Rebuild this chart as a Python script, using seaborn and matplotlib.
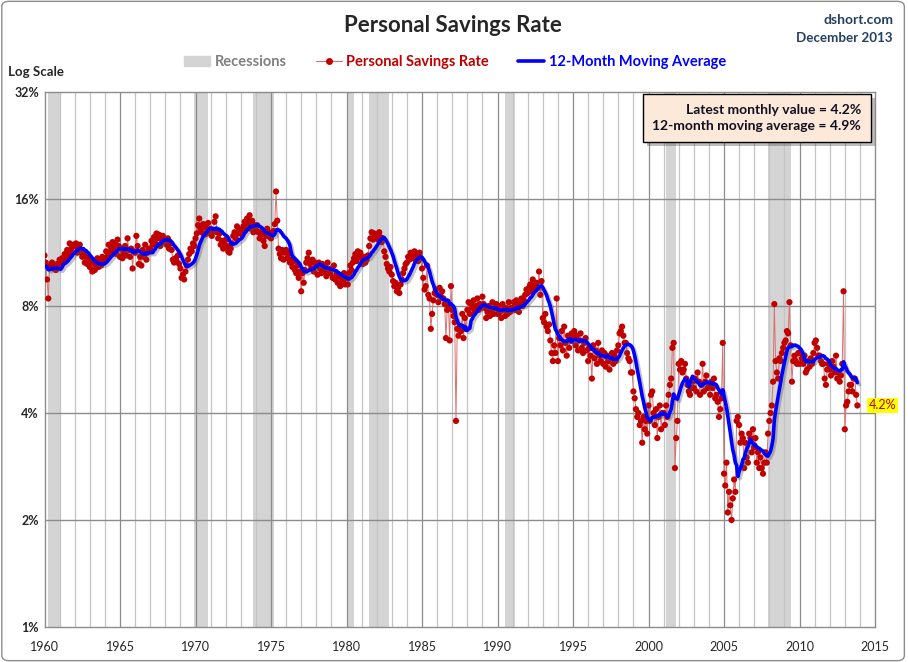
import numpy as np
import pandas as pd
import matplotlib
matplotlib.use("Agg")
import matplotlib.pyplot as plt
import matplotlib.patheffects as pe
from matplotlib.patches import Patch, FancyBboxPatch
from matplotlib.lines import Line2D
import seaborn as sns

# Monthly personal saving rate (%), Jan 1959 onwards
savings_1959_69 = [
    10.8, 10.5, 10.3, 10.6, 10.2, 10.0, 10.4, 9.8, 10.1, 10.3, 10.6, 10.4,
    11.1, 10.6, 9.5, 8.4, 10.3, 10.4, 10.6, 10.2, 10.4, 10.1, 10.5, 10.3,
    10.8, 10.4, 10.9, 10.6, 11.2, 10.9, 11.5, 11.2, 12.0, 11.4, 11.7, 11.9,
    11.8, 12.0, 11.3, 11.6, 11.9, 11.3, 11.0, 11.3, 10.6, 11.0, 10.5, 10.8,
    10.3, 10.7, 10.0, 10.6, 10.1, 10.4, 10.9, 10.3, 10.7, 10.4, 11.0, 10.6,
    10.8, 11.4, 11.0, 11.9, 11.3, 11.7, 12.1, 11.5, 11.9, 11.2, 12.3, 11.8,
    11.0, 11.6, 10.9, 11.3, 11.8, 11.1, 12.4, 11.5, 11.0, 11.6, 10.2, 11.4,
    11.3, 12.6, 11.8, 10.5, 11.0, 10.4, 11.5, 11.0, 11.9, 10.8, 11.3, 11.6,
    11.6, 12.2, 11.9, 12.5, 12.0, 12.8, 12.4, 12.7, 11.8, 12.3, 12.6, 12.1,
    12.2, 11.9, 12.4, 11.6, 12.0, 11.5, 10.8, 10.6, 10.9, 10.7, 11.1, 10.5,
    10.2, 9.6, 9.8, 9.5, 10.0, 10.4, 10.8, 11.2, 11.6, 11.4, 12.0, 11.8,
]
savings_1970s = [
    12.4, 12.8, 13.5, 14.1, 13.2, 12.9, 13.6, 12.7, 13.3, 12.8, 13.7, 13.0,
    13.2, 12.6, 13.0, 13.8, 14.3, 12.9, 12.4, 12.8, 11.9, 12.2, 11.6, 12.0,
    12.3, 11.8, 11.4, 11.3, 11.6, 12.0, 12.6, 12.9, 12.4, 13.4, 12.8, 13.1,
    13.0, 12.7, 13.4, 13.8, 13.1, 14.1, 13.6, 14.4, 13.2, 13.9, 12.9, 13.5,
    13.1, 13.5, 12.9, 12.4, 12.7, 13.0, 12.2, 11.8, 12.6, 13.2, 12.9, 12.5,
    12.4, 12.8, 13.0, 13.6, 16.8, 13.9, 11.6, 11.2, 10.9, 11.5, 10.8, 11.3,
    11.5, 10.9, 11.2, 10.6, 10.8, 10.3, 10.7, 10.1, 9.9, 10.4, 9.6, 10.0,
    8.8, 9.9, 9.3, 10.1, 10.6, 10.9, 11.3, 10.5, 10.2, 10.8, 10.0, 10.6,
    10.4, 9.8, 10.6, 10.2, 9.9, 10.5, 10.0, 10.3, 9.7, 10.6, 10.1, 9.9,
    10.2, 9.6, 10.4, 9.5, 9.8, 9.3, 9.7, 9.1, 9.6, 9.4, 9.9, 9.2,
]
savings_1980s = [
    9.6, 9.2, 9.9, 10.4, 10.1, 10.6, 10.9, 11.2, 10.7, 11.4, 11.0, 11.3,
    10.9, 10.5, 11.0, 10.6, 10.8, 11.1, 11.8, 12.4, 12.9, 12.3, 12.8, 12.6,
    12.7, 12.3, 12.9, 12.5, 12.1, 12.4, 11.4, 11.0, 10.5, 10.2, 10.0, 10.3,
    9.8, 9.4, 9.1, 9.3, 8.8, 9.0, 8.7, 9.2, 9.5, 9.9, 10.2, 10.5,
    10.6, 11.0, 10.8, 11.3, 10.9, 11.2, 11.4, 10.8, 11.1, 10.7, 11.3, 10.9,
    10.2, 9.6, 8.9, 9.1, 10.4, 8.6, 8.4, 6.9, 7.6, 8.3, 8.7, 8.9,
    8.6, 8.2, 9.0, 8.5, 8.8, 8.4, 8.1, 6.5, 7.8, 8.0, 6.4, 9.1,
    7.8, 7.5, 7.2, 3.8, 6.9, 6.6, 7.0, 6.8, 7.6, 6.5, 7.4, 6.9,
    7.8, 8.2, 7.6, 8.1, 7.9, 8.3, 7.7, 8.0, 8.4, 7.8, 8.1, 7.9,
    8.5, 8.1, 7.9, 7.4, 7.7, 8.0, 7.5, 7.8, 8.2, 7.6, 7.9, 8.1,
]
savings_1990s = [
    7.6, 8.0, 7.7, 7.4, 8.1, 7.8, 7.5, 7.9, 7.6, 8.2, 7.7, 7.9,
    7.9, 8.2, 7.8, 8.3, 8.0, 7.7, 8.1, 8.4, 8.0, 8.3, 8.6, 8.9,
    8.7, 9.0, 9.2, 8.8, 9.5, 9.1, 8.9, 9.3, 9.0, 10.0, 8.6, 9.4,
    7.4, 7.2, 7.6, 7.0, 6.8, 7.1, 6.4, 5.9, 5.6, 6.2, 5.9, 8.4,
    5.6, 6.5, 6.2, 6.8, 6.0, 7.0, 6.3, 5.8, 6.6, 6.1, 6.4, 6.7,
    6.5, 6.8, 6.2, 6.6, 6.0, 6.4, 6.7, 6.1, 5.9, 6.3, 6.5, 6.0,
    5.6, 6.1, 5.8, 5.0, 6.2, 5.7, 6.0, 5.5, 6.3, 5.8, 5.6, 6.0,
    5.5, 5.9, 5.4, 5.8, 5.6, 5.3, 5.7, 5.9, 5.5, 5.8, 5.6, 6.0,
    6.2, 6.7, 6.8, 7.0, 6.6, 6.3, 6.3, 5.9, 5.7, 5.6, 5.2, 5.2,
    4.6, 4.4, 4.1, 3.9, 4.0, 3.7, 3.8, 3.3, 3.9, 3.6, 3.8, 3.5,
]
savings_2000s = [
    4.2, 3.8, 4.5, 4.6, 4.0, 3.7, 4.1, 3.4, 3.9, 4.2, 3.6, 4.0,
    4.0, 3.7, 4.2, 3.9, 4.5, 4.8, 5.0, 6.1, 6.3, 2.8, 3.4, 3.8,
    5.5, 5.3, 5.6, 5.2, 5.3, 5.5, 5.0, 4.8, 4.6, 4.5, 4.7, 4.9,
    4.7, 5.0, 4.6, 5.2, 4.9, 4.5, 4.8, 5.5, 4.6, 4.9, 5.1, 4.7,
    4.8, 4.5, 4.9, 4.7, 5.0, 4.4, 4.5, 4.3, 3.9, 4.1, 4.4, 6.3,
    2.7, 2.5, 2.9, 2.1, 2.4, 2.2, 2.0, 2.3, 2.6, 2.4, 3.8, 3.9,
    3.7, 3.3, 3.5, 3.4, 2.8, 3.3, 3.0, 2.9, 3.5, 3.4, 3.1, 3.6,
    3.2, 3.4, 2.9, 3.1, 2.8, 3.0, 2.8, 2.7, 2.9, 3.1, 2.9, 3.5,
    3.8, 4.0, 4.2, 4.9, 8.1, 5.6, 5.2, 5.0, 5.7, 5.6, 5.9, 6.1,
    6.3, 6.4, 6.8, 6.7, 8.2, 6.2, 4.9, 5.6, 5.8, 5.6, 5.5, 5.9,
]
savings_2010_13 = [
    5.5, 5.9, 5.7, 5.5, 5.8, 5.2, 5.3, 5.6, 5.4, 5.7, 5.5, 5.9,
    6.3, 6.4, 6.1, 5.8, 5.8, 5.6, 5.5, 5.5, 5.0, 4.8, 5.3, 5.5,
    5.3, 5.1, 5.6, 5.4, 5.2, 5.8, 5.0, 5.2, 4.9, 5.1, 5.5, 8.8,
    3.6, 4.2, 4.3, 4.6, 4.8, 4.8, 4.6, 5.0, 5.0, 4.5, 4.2,
]
first_year = 1959

# NBER recessions (decimal years)
recession_start = [1960.25, 1969.92, 1973.83, 1980.0, 1981.5, 1990.5, 2001.17, 2007.92]
recession_end = [1961.08, 1970.83, 1975.17, 1980.5, 1982.83, 1991.17, 2001.83, 2009.42]

y_ticks = [1, 2, 4, 8, 16, 32]
y_labels = ['1%', '2%', '4%', '8%', '16%', '32%']
x_ticks = list(range(1960, 2016, 5))

#%% Build frame
rate = savings_1959_69 + savings_1970s + savings_1980s + savings_1990s + savings_2000s + savings_2010_13
df = pd.DataFrame({'t': first_year + np.arange(len(rate)) / 12, 'rate': rate})
df['ma'] = df['rate'].rolling(12).mean()
latest = df['rate'].iloc[-1]
latest_ma = df['ma'].iloc[-1]

#%% Plot
sns.set_style('white')
plt.rcParams['font.family'] = ['Lato', 'DejaVu Sans']

W, H = 908, 662
fig = plt.figure(figsize=(W / 100, H / 100), dpi=100)
ax = fig.add_axes([44.5 / W, 1 - 627 / H, (875 - 44.5) / W, (627 - 92) / H])

for s, e in zip(recession_start, recession_end):
    ax.axvspan(s, e, color='#d4d4d4', lw=0, zorder=0.2)
for yr in range(1961, 2015):
    ax.axvline(yr, color='#8c8c8c' if yr % 5 == 0 else '#c4c4c4', lw=0.9, zorder=0.4)
for v in y_ticks[1:-1]:
    ax.axhline(v, color='#8c8c8c', lw=1.0, zorder=0.4)

sns.lineplot(data=df, x='t', y='rate', color='#dc7070', lw=0.7, ax=ax, zorder=2)
sns.scatterplot(data=df, x='t', y='rate', color='#c00000', s=20, edgecolor='none', ax=ax, zorder=3)
sns.lineplot(data=df, x='t', y='ma', color='#0000ff', lw=2.6, ax=ax, zorder=4,
             path_effects=[pe.SimpleLineShadow(offset=(1.5, -1.5), shadow_color='#555555', alpha=0.35),
                           pe.Normal()])

ax.set_yscale('log', base=2)
ax.set_ylim(1, 32)
ax.set_xlim(1960, 2015)
ax.set_yticks(y_ticks)
ax.set_yticklabels(y_labels, fontsize=9, fontweight='bold')
ax.minorticks_off()
ax.set_xticks(x_ticks)
ax.set_xticklabels([str(x) for x in x_ticks], fontsize=9)
ax.tick_params(axis='x', length=0, pad=10)
ax.tick_params(axis='y', length=0, pad=4)
ax.set_xlabel('')
ax.set_ylabel('')
for sp in ax.spines.values():
    sp.set_color('#8c8c8c')
    sp.set_linewidth(1)

# titles and notes
fig.text(453 / W, 1 - 25 / H, 'Personal Savings Rate', ha='center', va='center',
         fontsize=16, fontweight='bold')
fig.text(893 / W, 1 - 20 / H, 'dshort.com', ha='right', va='center',
         fontsize=10, fontweight='bold', color='#243f60')
fig.text(893 / W, 1 - 38 / H, 'December 2013', ha='right', va='center',
         fontsize=9.6, fontweight='bold', color='#243f60')
fig.text(8 / W, 1 - 72 / H, 'Log Scale', ha='left', va='center', fontsize=9.5, fontweight='bold')

handles = [Patch(color='#d4d4d4'),
           Line2D([], [], color='#dc7070', lw=0.8, marker='o', markersize=4,
                  markerfacecolor='#c00000', markeredgecolor='#c00000'),
           Line2D([], [], color='#0000ff', lw=2.6)]
fig.legend(handles, ['Recessions', 'Personal Savings Rate', '12-Month Moving Average'],
           loc='center', bbox_to_anchor=(455 / W, 1 - 62 / H), ncol=3, frameon=False,
           labelcolor=['#808080', '#c00000', '#0000ff'],
           prop={'weight': 'bold', 'size': 10.5}, handlelength=1.8, columnspacing=2.0,
           handletextpad=0.3)

box = fig.text(861 / W, 1 - 118 / H,
               f'Latest monthly value = {latest:.1f}%\n12-month moving average = {latest_ma:.1f}%',
               ha='right', va='center', multialignment='right', fontsize=10,
               fontweight='bold', linespacing=1.45, color='#101020',
               bbox=dict(boxstyle='square,pad=0.7', fc='#fde9d9', ec='black', lw=1))
box.get_bbox_patch().set_path_effects([pe.withSimplePatchShadow(offset=(3, -3), alpha=0.35)])

ax.annotate(f'{latest:.1f}%', xy=(df['t'].iloc[-1], latest), xytext=(8, 0),
            textcoords='offset points', ha='left', va='center', fontsize=9,
            color='#c00000', annotation_clip=False,
            bbox=dict(boxstyle='square,pad=0.15', fc='#ffff00', ec='none'))

fig.patches.append(FancyBboxPatch((0.002, 0.002), 0.994, 0.996,
                                  boxstyle='round,pad=0,rounding_size=0.008',
                                  transform=fig.transFigure, fill=False,
                                  ec='#8c8c8c', lw=1))

fig.savefig('out.png', dpi=100)
